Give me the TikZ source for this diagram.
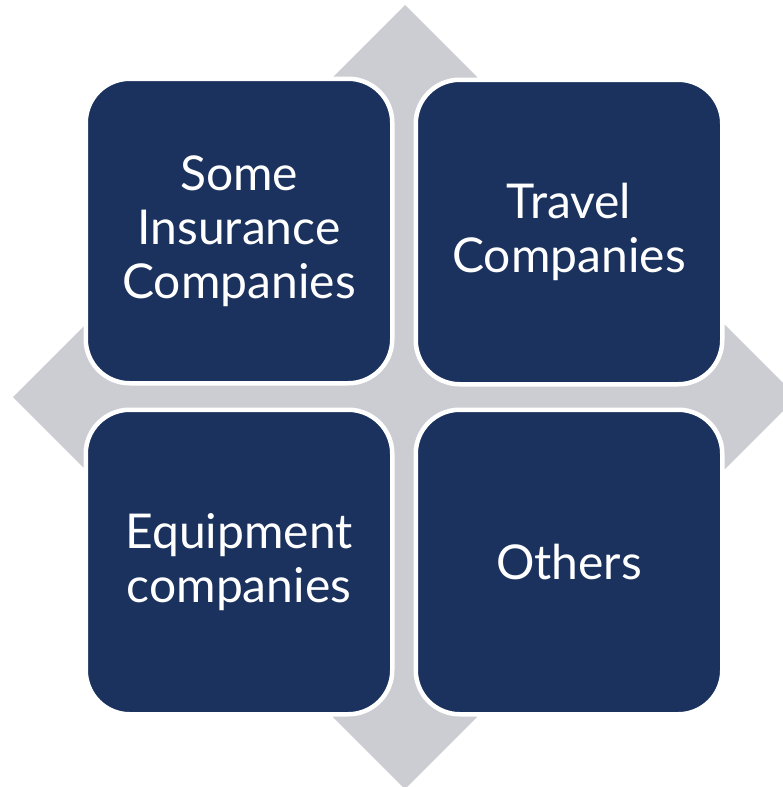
\documentclass[tikz,border=0pt]{standalone}
\usepackage{fontspec}
\setmainfont{Lato}
\definecolor{navy}{RGB}{27,50,94}
\definecolor{arrowgray}{RGB}{204,205,210}
\begin{document}
\begin{tikzpicture}[x=1pt,y=-1pt,
  cell/.style={draw=white, line width=4.5pt, fill=navy, rounded corners=44pt,
    minimum width=306.5pt, minimum height=304.5pt, inner sep=0pt,
    text=white, align=center, font=\fontsize{48}{54}\selectfont}]
\useasboundingbox (0,0) rectangle (782,787);
\fill[arrowgray] (405,5) -- (477,77) -- (477,325) -- (725,325) -- (797,397)
  -- (725,469) -- (477,469) -- (477,717) -- (405,789) -- (333,717)
  -- (333,469) -- (85,469) -- (13,397) -- (85,325) -- (333,325)
  -- (333,77) -- cycle;
\node[cell] (tl) at (239,231) {Some\\Insurance\\Companies};
\node[cell] (tr) at (569,232) {Travel\\Companies};
\node[cell] (bl) at (239,562) {Equipment\\companies};
\node[cell] (br) at (569,562) {Others};
\end{tikzpicture}
\end{document}
